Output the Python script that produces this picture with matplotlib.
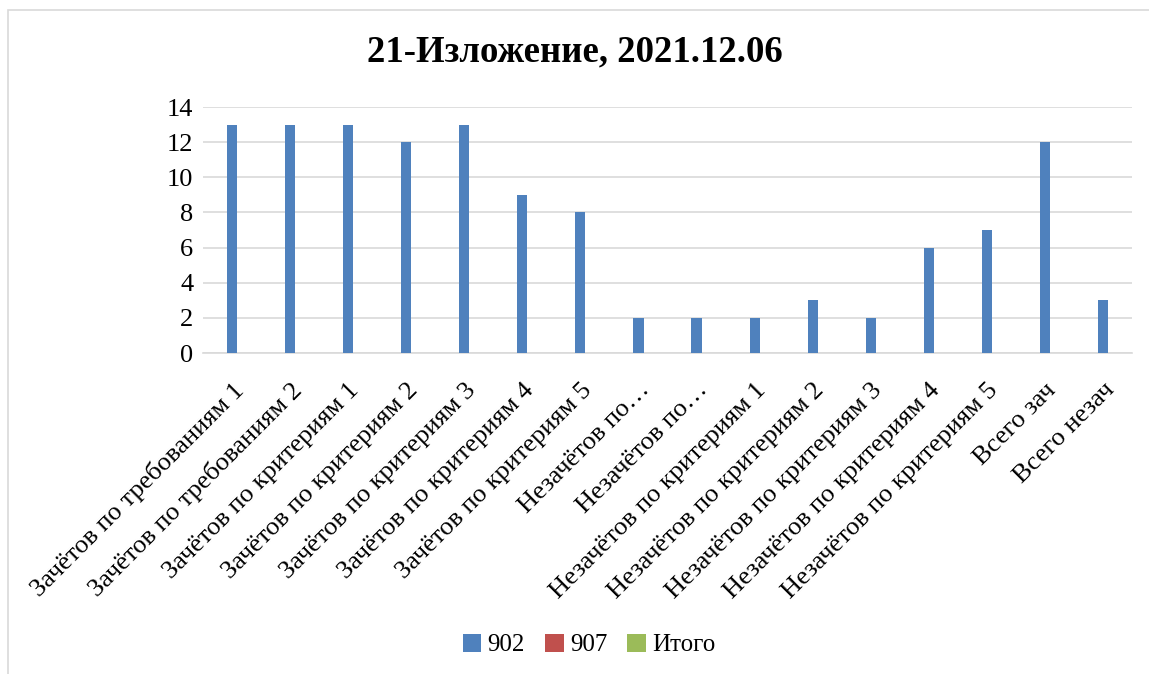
import matplotlib.pyplot as plt
import numpy as np
from matplotlib.patches import Rectangle

categories = [
    "Зачётов по требованиям 1",
    "Зачётов по требованиям 2",
    "Зачётов по критериям 1",
    "Зачётов по критериям 2",
    "Зачётов по критериям 3",
    "Зачётов по критериям 4",
    "Зачётов по критериям 5",
    "Незачётов по…",
    "Незачётов по…",
    "Незачётов по критериям 1",
    "Незачётов по критериям 2",
    "Незачётов по критериям 3",
    "Незачётов по критериям 4",
    "Незачётов по критериям 5",
    "Всего зач",
    "Всего незач",
]
values_902 = [13, 13, 13, 12, 13, 9, 8, 2, 2, 2, 3, 2, 6, 7, 12, 3]
values_907 = [0] * 16
values_total = [0] * 16
series_names = ["902", "907", "Итого"]
colors = ["#4F81BD", "#C0504D", "#9BBB59"]

plt.rcParams["font.family"] = ["Liberation Serif", "DejaVu Serif"]

fig = plt.figure(figsize=(11.49, 6.74), dpi=100)
fig.patches.append(Rectangle((8 / 1149, -0.1), 1.2, 1 - 10 / 674 + 0.1,
                             transform=fig.transFigure, fill=False,
                             edgecolor="#d9d9d9", lw=1.2))

ax = fig.add_axes([203 / 1149, 1 - 353 / 674, (1132 - 203) / 1149, (353 - 107) / 674])
x = np.arange(len(categories))
w = 0.175
ax.bar(x, values_902, w, color=colors[0], label=series_names[0], zorder=3)
ax.bar(x, values_907, w, color=colors[1], label=series_names[1], zorder=3)
ax.bar(x, values_total, w, color=colors[2], label=series_names[2], zorder=3)

ax.set_xlim(-0.5, len(categories) - 0.5)
ax.set_ylim(0, 14)
ax.set_yticks(range(0, 15, 2))
ax.yaxis.grid(True, color="#d9d9d9", lw=1.2, zorder=0)
for s in ["top", "right", "left"]:
    ax.spines[s].set_visible(False)
ax.spines["bottom"].set_color("#d9d9d9")
ax.spines["bottom"].set_linewidth(1.2)
ax.tick_params(axis="both", length=0, labelsize=19, colors="black")
ax.tick_params(axis="y", pad=7)
ax.set_xticks(x)
ax.set_xticklabels(categories, rotation=45, ha="right", rotation_mode="anchor")
for lbl in ax.get_xticklabels():
    lbl.set_y(-0.085)

fig.text(0.5, 1 - 52 / 674, "21-Изложение, 2021.12.06", ha="center", va="center",
         fontsize=26.5, fontweight="bold")

handles, labels = ax.get_legend_handles_labels()
fig.legend(handles, labels, loc="center", bbox_to_anchor=(589 / 1149, 1 - 645 / 674),
           ncol=3, frameon=False, fontsize=18, handlelength=0.75, handleheight=0.75,
           handletextpad=0.25, columnspacing=0.8)

fig.savefig("out.png", dpi=100)
